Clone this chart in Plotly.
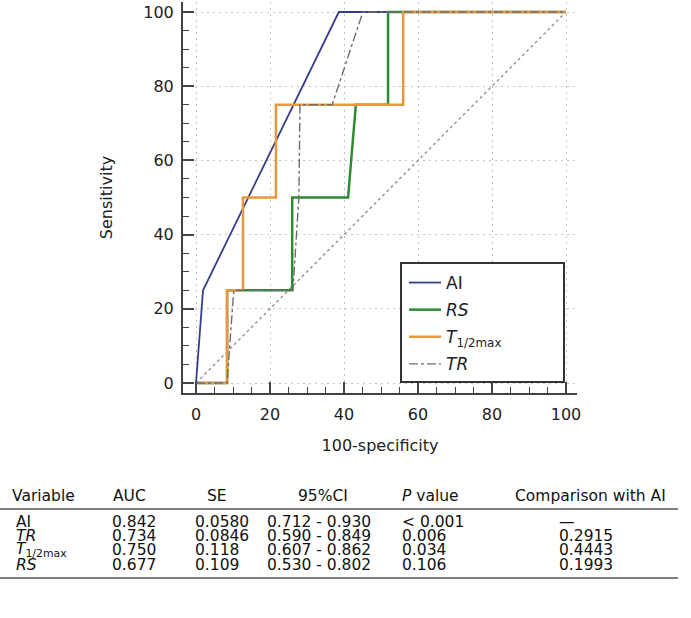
import plotly.graph_objects as go

# ---- ROC data (100-specificity, sensitivity) ----
ai_fpr = [0, 1.9, 38.6, 100]
ai_tpr = [0, 25, 100, 100]

rs_fpr = [0, 8.4, 8.4, 26.0, 26.0, 41.1, 43.2, 51.9, 51.9, 100]
rs_tpr = [0, 0, 25, 25, 50, 50, 75, 75, 100, 100]

t_fpr = [0, 8.4, 8.4, 12.7, 12.7, 21.6, 21.6, 56.0, 56.0, 100]
t_tpr = [0, 0, 25, 25, 50, 50, 75, 75, 100, 100]

tr_fpr = [0, 8.4, 10.2, 26.2, 27.8, 28.1, 36.8, 45.1, 100]
tr_tpr = [0, 0, 25, 25, 50, 75, 75, 100, 100]

diag = [0, 100]

# ---- table data ----
tbl_headers = ["Variable", "AUC", "SE", "95%CI", "<i>P</i> value", "Comparison with AI"]
tbl_variables = ["AI", "<i>TR</i>", "<i>T</i><sub>1/2max</sub>", "<i>RS</i>"]
tbl_auc = ["0.842", "0.734", "0.750", "0.677"]
tbl_se = ["0.0580", "0.0846", "0.118", "0.109"]
tbl_ci = ["0.712 - 0.930", "0.590 - 0.849", "0.607 - 0.862", "0.530 - 0.802"]
tbl_p = ["< 0.001", "0.006", "0.034", "0.106"]
tbl_cmp = ["\u2014", "0.2915", "0.4443", "0.1993"]

FONT = "DejaVu Sans, Verdana, sans-serif"
TXT = "#222222"

fig = go.Figure()
fig.add_trace(go.Scatter(x=diag, y=diag, mode="lines", showlegend=False,
                         line=dict(color="#8a8a8a", width=1.3, dash="dot"), hoverinfo="skip"))
fig.add_trace(go.Scatter(x=ai_fpr, y=ai_tpr, mode="lines", name="AI", legendrank=1, legendgroup="ai",
                         line=dict(color="#383c8c", width=1.8)))
fig.add_trace(go.Scatter(x=rs_fpr, y=rs_tpr, mode="lines", name="<i>RS</i>", legendrank=2, legendgroup="rs",
                         line=dict(color="#2e8b34", width=2.5)))
fig.add_trace(go.Scatter(x=t_fpr, y=t_tpr, mode="lines", name="<i>T</i><sub>1/2max</sub>", legendrank=3,
                         legendgroup="t", line=dict(color="#e8973a", width=2.5)))
fig.add_trace(go.Scatter(x=tr_fpr, y=tr_tpr, mode="lines", name="<i>TR</i>", legendrank=4, legendgroup="tr",
                         line=dict(color="#6e6e6e", width=1.4, dash="dashdot")))

# pixel geometry of plot area
L, R, T, B = 183, 577, 2, 393
W, H = R - L, B - T
def px(x):
    return (x - L) / W
def py(y):
    return (B - y) / H

xr0 = (L - 196) / 3.70
xr1 = (R - 196) / 3.70
yr0 = (383 - B) / 3.71
yr1 = (383 - T) / 3.71

axis_common = dict(
    showline=True, linecolor="#444444", linewidth=2,
    ticks="inside", ticklen=11, tickwidth=2, tickcolor="#444444",
    dtick=20, tick0=0,
    minor=dict(dtick=5, ticks="inside", ticklen=6, tickwidth=1.2, tickcolor="#444444", showgrid=False),
    showgrid=True, gridcolor="#c4c4c4", griddash="2px,4px", gridwidth=1,
    zeroline=False, mirror=False,
    tickfont=dict(family=FONT, size=16, color=TXT),
)

fig.update_xaxes(range=[xr0, xr1], ticklabelstandoff=6,
                 title=dict(text="100-specificity", font=dict(family=FONT, size=16, color=TXT), standoff=17),
                 **axis_common)
fig.update_yaxes(range=[yr0, yr1], ticklabelstandoff=4,
                 title=dict(text="Sensitivity", font=dict(family=FONT, size=16, color=TXT), standoff=27),
                 **axis_common)

shapes = []
# legend frame
shapes.append(dict(type="rect", xref="paper", yref="paper", layer="above",
                   x0=px(401), x1=px(564), y0=py(382), y1=py(263),
                   fillcolor="white", line=dict(color="#333333", width=2)))
# table rules
for yy in (509, 578):
    shapes.append(dict(type="line", xref="paper", yref="paper", x0=px(0), x1=px(678),
                       y0=py(yy), y1=py(yy), line=dict(color="#555555", width=1.5)))

annotations = []
def txt(s, x, y, anchor="left"):
    annotations.append(dict(text=s, x=px(x), y=py(y), xref="paper", yref="paper",
                            xanchor=anchor, yanchor="middle", showarrow=False,
                            font=dict(family=FONT, size=15.5, color="#111111")))

header_pos = [(10, "left"), (129, "center"), (217, "center"), (323, "center"), (400, "left"), (590, "center")]
for h, (x, a) in zip(tbl_headers, header_pos):
    txt(h, x, 496, a)

row_y = [522, 536, 550, 565]
for i, y in enumerate(row_y):
    txt(tbl_variables[i], 14, y)
    txt(tbl_auc[i], 110, y)
    txt(tbl_se[i], 193, y)
    txt(tbl_ci[i], 265, y)
    txt(tbl_p[i], 400, y)
    txt(tbl_cmp[i], 557, y)

fig.update_layout(
    width=691, height=618,
    margin=dict(l=L, r=691 - R, t=T, b=618 - B, autoexpand=False),
    paper_bgcolor="white", plot_bgcolor="white",
    font=dict(family=FONT, size=16, color=TXT),
    legend=dict(x=px(404), y=py(265), xanchor="left", yanchor="top",
                bgcolor="rgba(0,0,0,0)", borderwidth=0,
                font=dict(family=FONT, size=17, color=TXT),
                tracegroupgap=2, itemwidth=32),
    shapes=shapes, annotations=annotations,
    showlegend=True,
)

fig.write_html("out.html", config={"displayModeBar": False},
               post_script="document.body.style.margin='0';")
